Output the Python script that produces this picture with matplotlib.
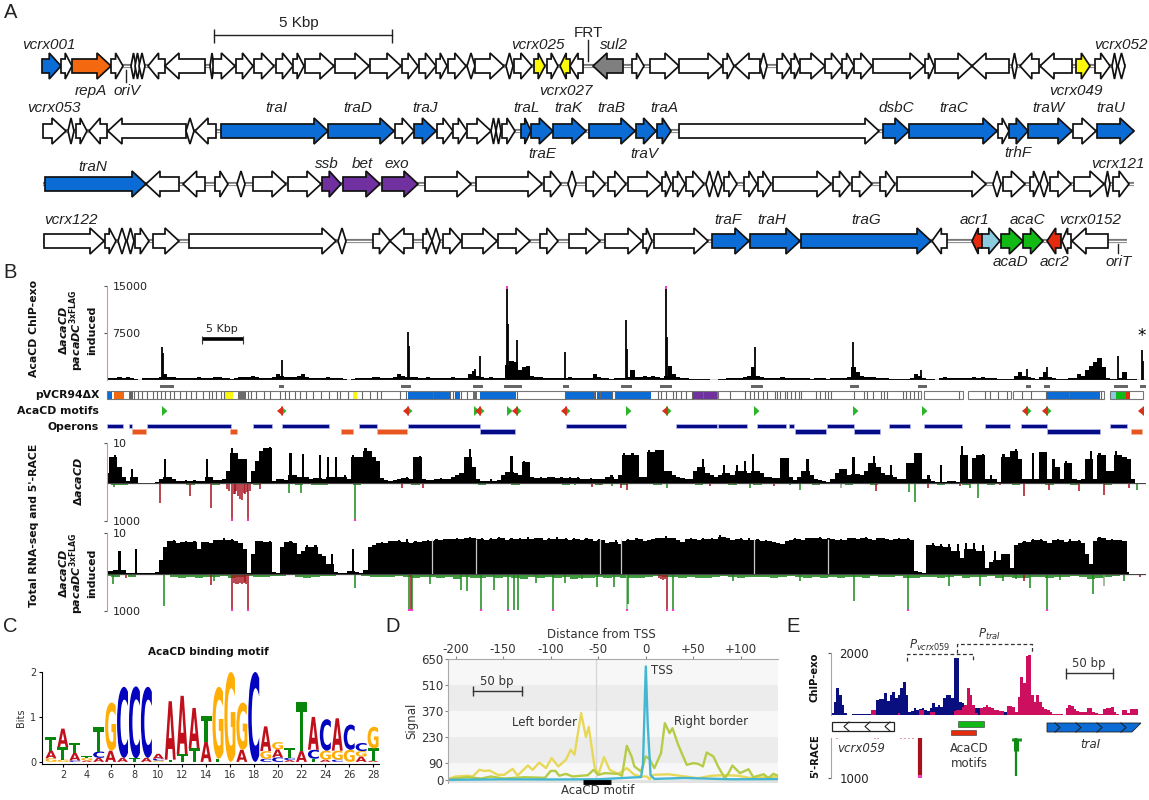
import numpy as np
import matplotlib
matplotlib.use('Agg')
import matplotlib.pyplot as plt
from matplotlib.patches import Polygon, PathPatch, Rectangle
from matplotlib.textpath import TextPath
from matplotlib.font_manager import FontProperties
from matplotlib.transforms import Affine2D

plt.rcParams['font.family'] = ['DejaVu Sans']
plt.rcParams['mathtext.fontset'] = 'dejavusans'

W, H = 1149, 800

BLUE = '#0b6cd6'
ORANGE = '#f4680f'
YEL = '#fbf80a'
GRAY = '#7f7f7f'
PUR = '#7030a0'
GRN = '#10b914'
RED = '#e62a0e'
LBL = '#8ccbdf'
WHT = 'white'
PINK = '#e08a9a'
MAG = '#f23fc0'

# panel A: genes as (start, end, strand, colour), map units of the drawing
row1 = [(42, 61, 1, BLUE), (61, 72, 1, WHT), (72, 111, 1, ORANGE), (111, 123, 1, WHT), (131, 136, 1, WHT),
        (135, 140, 1, WHT), (139, 145, 1, WHT), (148, 165, -1, WHT), (165, 205, -1, WHT), (210, 214, 1, WHT),
        (213, 235, 1, WHT), (236, 253, 1, WHT), (254, 274, 1, WHT), (276, 293, 1, WHT), (293, 304, 1, WHT),
        (305, 334, 1, WHT), (335, 369, 1, WHT), (370, 401, 1, WHT), (402, 418, 1, WHT), (419, 436, 1, WHT),
        (436, 447, 1, WHT), (448, 466, 1, WHT), (467, 475, 1, WHT), (475, 504, 1, WHT), (506, 513, 1, WHT),
        (514, 532, 1, WHT), (534, 545, 1, YEL), (547, 558, 1, WHT), (560, 570, -1, YEL), (570, 583, -1, WHT),
        (593, 623, -1, GRAY), (632, 644, 1, WHT), (650, 679, 1, WHT), (679, 722, 1, WHT), (723, 734, 1, WHT),
        (735, 760, -1, WHT), (760, 767, 1, WHT), (777, 791, 1, WHT), (791, 800, 1, WHT), (800, 825, 1, WHT),
        (825, 842, 1, WHT), (842, 854, 1, WHT), (854, 872, 1, WHT), (873, 924, 1, WHT), (925, 934, 1, WHT),
        (935, 972, 1, WHT), (972, 1009, -1, WHT), (1012, 1017, 1, WHT), (1020, 1039, -1, WHT), (1040, 1072, -1, WHT),
        (1076, 1090, 1, YEL), (1095, 1110, 1, WHT), (1112, 1117, 1, WHT), (1118, 1125, 1, WHT)]
row2 = [(43, 66, 1, WHT), (68, 74, 1, WHT), (76, 87, 1, WHT), (89, 107, -1, WHT), (108, 186, -1, WHT),
        (186, 194, -1, WHT), (195, 216, -1, WHT), (221, 328, 1, BLUE), (328, 394, 1, BLUE), (395, 414, 1, WHT),
        (414, 436, 1, BLUE), (437, 453, 1, WHT), (453, 467, 1, WHT), (467, 491, 1, WHT), (491, 496, 1, WHT),
        (496, 501, 1, WHT), (502, 515, 1, WHT), (521, 531, 1, BLUE), (531, 553, 1, BLUE), (553, 586, 1, BLUE),
        (589, 635, 1, BLUE), (636, 656, 1, BLUE), (657, 671, 1, BLUE), (679, 879, 1, WHT), (883, 909, 1, BLUE),
        (909, 997, 1, BLUE), (998, 1009, 1, WHT), (1009, 1028, 1, BLUE), (1028, 1072, 1, BLUE), (1073, 1096, 1, WHT),
        (1097, 1134, 1, BLUE)]
row3 = [(45, 146, 1, BLUE), (146, 179, -1, WHT), (183, 205, -1, WHT), (215, 228, 1, WHT), (237, 245, 1, WHT),
        (253, 286, 1, WHT), (288, 321, 1, WHT), (322, 341, 1, PUR), (343, 380, 1, PUR), (382, 418, 1, PUR),
        (425, 471, 1, WHT), (476, 542, 1, WHT), (544, 561, 1, WHT), (568, 576, 1, WHT), (586, 605, 1, WHT),
        (608, 626, 1, WHT), (628, 661, 1, WHT), (662, 671, 1, WHT), (673, 685, 1, WHT), (686, 704, 1, WHT),
        (706, 713, -1, WHT), (714, 722, 1, WHT), (724, 737, 1, WHT), (744, 757, 1, WHT), (758, 771, 1, WHT),
        (773, 831, 1, WHT), (833, 850, 1, WHT), (852, 872, 1, WHT), (880, 895, 1, WHT), (897, 986, 1, WHT),
        (993, 1001, 1, WHT), (1003, 1025, 1, WHT), (1030, 1039, 1, WHT), (1040, 1048, 1, WHT), (1050, 1071, 1, WHT),
        (1074, 1104, 1, WHT), (1105, 1110, 1, WHT), (1113, 1129, 1, WHT)]
row4 = [(44, 104, 1, WHT), (105, 116, 1, WHT), (118, 126, 1, WHT), (127, 134, 1, WHT), (135, 149, 1, WHT),
        (153, 179, 1, WHT), (189, 336, 1, WHT), (338, 346, 1, WHT), (373, 390, 1, WHT), (390, 413, -1, WHT),
        (423, 432, 1, WHT), (432, 440, -1, WHT), (443, 461, 1, WHT), (462, 497, 1, WHT), (498, 530, 1, WHT),
        (540, 558, 1, WHT), (569, 600, 1, WHT), (605, 642, 1, WHT), (643, 652, 1, WHT), (654, 708, 1, WHT),
        (712, 749, 1, BLUE), (750, 800, 1, BLUE), (801, 931, 1, BLUE), (932, 947, -1, WHT), (972, 982, -1, RED),
        (982, 1000, 1, LBL), (1001, 1023, 1, GRN), (1023, 1043, 1, GRN), (1047, 1061, -1, RED), (1062, 1071, -1, WHT),
        (1072, 1108, -1, WHT)]
row_y = [66, 131, 184, 241]
row_span = [(42, 1126), (43, 1134), (43, 1134), (43, 1127)]

# labels of panel A: text, x, y
gene_labels = [('vcrx001', 49, 45), ('repA', 91, 91), ('oriV', 127, 91), ('vcrx025', 538, 45), ('sul2', 614, 45),
               ('vcrx027', 566, 91), ('vcrx052', 1121, 45), ('vcrx049', 1076, 91), ('vcrx053', 54, 108),
               ('traI', 276, 108), ('traD', 358, 108), ('traJ', 425, 108), ('traL', 526, 108), ('traK', 568, 108),
               ('traB', 611, 108), ('traA', 664, 108), ('dsbC', 896, 108), ('traC', 954, 108), ('traW', 1048, 108),
               ('traU', 1111, 108), ('traE', 542, 154), ('traV', 644, 154), ('trhF', 1018, 153), ('traN', 93, 167),
               ('ssb', 327, 164), ('bet', 362, 164), ('exo', 397, 164), ('vcrx121', 1118, 164), ('vcrx122', 71, 220),
               ('traF', 728, 220), ('traH', 772, 220), ('traG', 866, 220), ('acr1', 975, 220), ('acaC', 1027, 220),
               ('vcrx0152', 1090, 220), ('acaD', 1010, 262), ('acr2', 1055, 262), ('oriT', 1119, 262)]

# panel B: signal per genome bin
TRACK_X0, TRACK_X1, BIN = 107, 1146, 4.17
chip_bins = [300, 350, 250, 400, 300, 500, 350, 120, 60, 250, 300, 250, 350, 500, 900, 500, 400, 300, 250, 300,
             350, 250, 400, 350, 300, 250, 400, 500, 300, 250, 200, 300, 450, 400, 500, 600, 500, 350, 300, 250,
             400, 900, 700, 500, 400, 500, 700, 900, 500, 350, 300, 250, 300, 400, 250, 300, 350, 200, 60, 200,
             300, 250, 350, 300, 400, 450, 350, 300, 250, 500, 1000, 600, 500, 400, 450, 350, 300, 400, 350, 300,
             250, 350, 300, 400, 300, 250, 350, 900, 1400, 700, 400, 350, 500, 350, 300, 350, 2400, 3000, 2800, 1600,
             2000, 2200, 700, 500, 400, 300, 350, 300, 250, 300, 350, 400, 300, 350, 300, 250, 350, 1000, 500, 300,
             250, 200, 350, 300, 250, 400, 1600, 500, 500, 700, 400, 600, 500, 300, 700, 2200, 900, 400, 300, 250,
             120, 100, 150, 200, 120, 60, 60, 100, 200, 250, 300, 350, 300, 500, 700, 2000, 700, 400, 350, 300,
             250, 350, 400, 350, 300, 250, 350, 300, 250, 200, 300, 350, 250, 200, 300, 350, 250, 300, 400, 2000,
             1200, 600, 500, 400, 500, 350, 300, 250, 200, 150, 100, 120, 200, 350, 1000, 700, 300, 150, 100, 60,
             300, 400, 300, 350, 250, 300, 350, 300, 400, 350, 450, 350, 300, 300, 200, 150, 100, 100, 700, 1300,
             700, 400, 300, 200, 400, 1300, 500, 300, 150, 100, 200, 300, 250, 1000, 600, 1600, 2200, 2800, 3500, 2000,
             300, 100, 120, 300, 1300, 200, 150, 100]
chip_spike_x = [162, 163, 282, 408, 409, 475, 480, 507, 508, 517, 565, 626, 627, 666, 667, 755, 853, 921, 1027, 1047,
                1105, 1118, 1142, 1143]
chip_spike_y = [5300, 4300, 3200, 7700, 5500, 1800, 3900, 15000, 9000, 6400, 4500, 9500, 5000, 15000, 6800, 5300, 6000, 1600, 1800, 2000,
                1100, 3800, 4800, 3000]

rna1 = [2.5, 6.5, 7, 4, 1.5, .6, 3.5, 1.5, .1, 0, 0, .1, .2, 1, 6, 1.5, 1, .5, .6, .7,
        .5, .8, .5, .6, 6, 1.5, .8, .8, .9, 3, 8.7, 7.5, 6, 6, .2, 3, 5.5, 8, 8.8, 9,
        .4, 1, 1, .8, 7.5, 2, 1.5, 7.3, 1.5, 1, 1.2, 7, 1, 6.5, 1.5, 6.5, 1.5, 2, 1, 7,
        6.5, 6.5, 8.8, 8, 6.5, 5.5, 1.2, .8, .6, .7, .9, 1.2, 1.5, 1, 6.5, 6.8, 1, .8, .7, 1,
        1.2, 1, 1, 1.5, 2, 2.5, 6.5, 8.5, 4, 1, .6, .5, .9, .5, .8, 2, 2.8, 6.8, 2.5, 2,
        5.5, 5.3, 1.5, 1.3, 1.5, 1.2, 1.6, 1.4, 1.2, 1.5, 1.3, 1.6, 1.2, 1.4, 1, 1.1, 1.3, 1, 1, 1,
        1.5, 2, 1, 2, 7.5, 7, 7.5, 7, 1.5, 1.5, 8.2, 7.8, 8.2, 8.3, 3, 3, 2, 1.5, 1.2, 1,
        1, 3, 4, 6, 2.5, 2, 1.5, 2, 4.5, 2.5, 2, 4.5, 3, 5.5, 2.5, 7.2, 3, 2.5, 1.5, 1.5,
        1.2, 1.2, 6.3, 6.2, 1.5, .8, 1.5, 3, 6, 2, 1, .8, .5, .3, 1, 2.5, 3.5, 3.5, 2, 6.5,
        2.2, 2, 3, 5, 6.8, 4, 2.5, 2, 4.5, 1.5, 1, 1, 5, 5, 7.5, 7.5, 1, 2, .6, .3,
        4.5, .2, .4, .5, .3, 9.2, 7, 1, 6.3, 7, 7.2, 1, 2, 1, .2, 7.3, 6.5, 8, 8.5, 6,
        1, 1, 7.5, 1, 7.8, 7.8, 1, 6, 4, 1, 5.5, 5, 1, .7, 1, 6, 8, 1, 7.5, 7,
        3, 3, 8, 7, 6.5, 6, 1, 0]
rna2 = [6.5, .8, 1, 5.5, 1, .3, .3, 6.2, .3, .2, .2, .3, .4, 3.5, 6.5, 8, 8.2, 7.5, 7.8, 8,
        7.8, 8, 6, 7.8, 7.8, 7.5, 8.3, 8.2, 8.8, 8.2, 8.5, 8, 7.5, 6, .2, 5, 8, 8, 7.8, 8,
        .6, .3, 6.5, 7.8, 8, 7.5, 5, 5.5, 7, 6.5, 7, 5, 4.5, 2.5, 5, .5, .3, .3, .8, 6,
        .4, .3, 1, 6.5, 7, 7.5, 7.8, 7.5, 8, 8, 8.3, 7.8, 8.6, 7.5, 8, 7.8, 8, 8.2, 8, 8.5,
        8.2, 8.5, 8.6, 8.5, 8.8, 8.5, 8.8, 9, 8.8, 8.5, 8.7, 8.4, 8.8, 8.6, 9, 8.7, 8.4, 8.8, 8.5, 8.9,
        8.6, 9, 8.5, 8.7, 8.9, 8.4, 8.8, 8.6, 9, 8.5, 8.7, 8.4, 8.8, 8.6, 8.3, 8.7, 8.5, 8, 8.5, 8.2,
        7.5, 7.8, 8.4, 7.2, 8, 8.6, 8.2, 8.8, 8.5, 8, 8.3, 8.6, 8.8, 8.9, 9.2, 8.7, 8.9, 8.3, 7.8, 8.5,
        8.8, 8.6, 8.3, 8.8, 8.5, 8.8, 8.6, 9.5, 9, 8.8, 8.3, 8.6, 8.8, 8.4, 8.7, 8.2, 8.5, 8, 8.3, 8,
        7.8, 7.5, 7.2, 8, 8.4, 8.7, 8.5, 8.2, 8.8, 8.9, 8.7, 9, 8.6, 8.8, 8.5, 8.2, 8.6, 8.4, 8.9, 8.7,
        8.5, 8.8, 9, 8.6, 8.4, 8.7, 8.9, 8.5, 8.3, 8.6, 8.8, 8.5, 8.7, 8.4, .8, .5, .3, 7, 7.5, 6.8,
        7.4, 6.5, 7.2, 5.5, 7.3, 4, 7.5, 6, 7.5, 5.5, 7, 1.5, 3, 5.5, 3.5, 5, 5, 1.5, 7, 7.5,
        8, 7.8, 8.5, 8.2, 8.6, 8, 7.5, 8.2, 8.6, 8.2, 7.8, 8.5, 8, 8.4, 7.5, 5, 2.5, 8, 9, 8.8,
        8.3, 8.6, 8.4, 8.2, 8, .5]
rna2_gaps = [432, 476, 600, 621, 754, 828]

# strand signals below the RNA tracks: position, depth, colour
DR, DG = '#a5121c', '#1a8a1a'
neg1_x = [114, 160, 190, 211, 232, 238, 240, 245, 248, 260, 289, 301, 355, 402, 423, 592, 621, 627, 667, 710,
          750, 774, 800, 841, 876, 909, 915, 928, 978, 970, 1024, 1049, 1079, 1104, 1129, 1137, 235, 242, 250, 575, 600, 612, 735, 790, 960, 1000,
          227, 229, 234, 236, 244, 247]
neg1_y = [100, 530, 350, 660, 1000, 350, 420, 300, 1000, 150, 250, 250, 1000, 120, 140, 100, 130, 180, 130, 90,
          130, 90, 180, 130, 220, 240, 510, 130, 400, 140, 350, 180, 220, 320, 130, 180, 300, 450, 220, 60, 60, 70, 60, 60, 90, 60,
          150, 200, 280, 220, 260, 240]
neg1_c = [DG, DR, DR, DR, DR, DR, DR, DR, DR, DR, DG, DG, DG, DR, DR, DR, DR, DR, DG, DR,
          DG, DR, DG, '#8aa88a', DR, DG, DG, DR, DG, DG, DR, DR, DR, DR, DR, DG, DR, DR, DR, DG, DR, DG, DG, DG, DR, DR,
          DR, DR, DR, DR, DR, DR]
neg1_noise = [30, 60, 40, 20, 10, 5, 0, 0, 10, 30, 40, 20, 30, 40, 20, 30, 20, 30, 50, 20,
              30, 20, 30, 40, 20, 40, 50, 30, 20, 30, 40, 30, 20, 30, 20, 20, 30, 40, 30, 20,
              30, 20, 30, 30, 20, 40, 30, 30, 20, 40, 30, 20, 30, 20, 30, 40, 20, 30, 20, 40,
              30, 20, 40, 30, 20, 30, 40, 20, 30, 20, 30, 40, 30, 20, 30, 40, 20, 30, 40, 30,
              20, 30, 20, 10, 30, 40, 30, 20, 30, 40, 20, 30, 40, 30, 20, 30, 20, 10, 10, 30,
              40, 20, 30, 50, 20, 30, 40, 20, 30, 40, 30, 20, 30, 40, 20, 30, 40, 30, 20, 30, 40, 20, 10, 0]
neg2_x = [113, 126, 164, 211, 214, 232, 240, 245, 248, 355, 409, 411, 412, 430, 461, 467, 481, 494, 508, 514,
          518, 536, 553, 565, 582, 597, 614, 627, 628, 667, 673, 733, 800, 854, 908, 949, 980, 1024, 1030, 1047,
          1093, 1104, 1124, 1140, 1016, 1060, 1003,
          234, 236, 238, 242, 244, 246, 659, 661, 663, 665]
neg2_y = [280, 110, 870, 300, 180, 1000, 230, 220, 1000, 370, 1000, 1000, 1000, 280, 420, 460, 1000, 420, 1000, 970,
          970, 230, 1000, 230, 130, 350, 350, 1000, 800, 1000, 1000, 180, 180, 730, 1000, 320, 320, 200, 370, 1000,
          550, 320, 180, 90, 130, 150, 180,
          250, 270, 260, 280, 250, 260, 120, 140, 150, 130]
neg2_c = [DG, DR, DG, DR, DG, DR, DR, DR, DR, DG, DG, DR, DG, DG, DG, DG, DG, DG, DG, DG,
          DG, DG, DG, DG, DG, DG, DG, '#7fbf7f', DG, DR, DG, DG, DG, DG, DG, DG, DG, DR, DG, DG,
          DG, '#8aa88a', DG, DR, DG, DG, DG,
          DR, DR, DR, DR, DR, DR, DR, DR, DR, DR]
neg2_noise = [60, 90, 40, 70, 30, 40, 20, 30, 80, 120, 90, 110, 70, 90, 60, 100, 80, 60, 90, 70,
              50, 60, 40, 80, 100, 70, 50, 60, 40, 30, 30, 60, 80, 70, 90, 60, 70, 100, 70, 90,
              120, 90, 130, 80, 100, 120, 90, 110, 70, 100, 130, 90, 120, 80, 110, 90, 130, 100, 120, 80,
              100, 70, 110, 120, 100, 80, 60, 90, 80, 110, 70, 100, 120, 90, 60, 80, 100, 70, 90, 80,
              110, 70, 60, 90, 100, 80, 120, 70, 110, 90, 70, 100, 60, 80, 90, 60, 100, 120, 90, 70,
              110, 80, 60, 100, 80, 70, 60, 110, 90, 120, 100, 80, 90, 120, 70, 80, 60, 90, 130, 100, 70, 50, 20, 0]

# gene map row
map_boxes = [(107, 717), (718, 921), (924, 963), (968, 1011), (1013, 1104), (1110, 1143)]
map_fill = [(107, 112, BLUE), (114, 124, ORANGE), (129, 133, '#666666'), (225, 233, YEL), (238, 246, '#6b6b6b'), (353, 357, YEL),
            (408, 450, BLUE), (455, 460, BLUE), (473, 477, '#6b6b6b'), (480, 516, BLUE), (566, 596, BLUE), (597, 612, BLUE),
            (616, 651, BLUE), (693, 717, PUR), (1047, 1100, BLUE), (1111, 1116, LBL), (1116, 1126, GRN), (1126, 1130, RED)]
map_ticks = [134, 138, 142, 147, 153, 157, 161, 165, 170, 174, 180, 186, 191, 196, 203, 209, 212, 216, 221, 224,
             248, 251, 256, 264, 270, 280, 285, 289, 295, 300, 306, 313, 321, 329, 337, 340, 348, 362, 370, 377,
             381, 400, 406, 433, 450, 453, 461, 467, 517, 565, 594, 600, 612, 615, 658, 661, 666, 673, 676, 681,
             686, 692, 703, 730, 745, 750, 754, 758, 763, 767, 775, 777, 780, 785, 787, 791, 795, 799, 801, 816,
             820, 825, 828, 831, 854, 864, 867, 873, 881, 884, 887, 903, 906, 910, 914, 918, 959, 985, 990, 998,
             1007, 1022, 1031, 1046, 1069, 1101]

chip_regions = [(160, 174), (279, 284), (401, 411), (473, 483), (504, 522), (563, 569), (621, 632), (660, 672), (751, 763),
                (850, 859), (918, 927), (1026, 1031), (1044, 1050), (1114, 1128), (1140, 1146)]
motif_fwd = [163, 282, 408, 475, 480, 508, 517, 566, 627, 667, 755, 854, 923, 1027, 1047]
motif_rev = [282, 408, 480, 517, 566, 667, 1027, 1047, 1143]
operon_up = [(107, 123), (129, 132), (147, 231), (253, 272), (282, 329), (359, 377), (408, 480), (566, 626), (676, 717),
             (718, 747), (757, 786), (789, 794), (827, 854), (889, 910), (924, 962), (985, 1010), (1021, 1047), (1110, 1127)]
operon_low = [(480, 515), (795, 826), (854, 880), (1047, 1100)]
operon_org = [(132, 146), (230, 237), (341, 353), (377, 407), (1131, 1142)]

# panel C: stacks bottom to top, (letter, bits)
logo = [[('G', .08), ('A', .17), ('T', .3)], [('G', .05), ('T', .28), ('A', .41)], [('C', .03), ('A', .17), ('T', .22)],
        [('A', .03), ('G', .06), ('T', .03)], [('A', .09), ('C', .14), ('T', .55)], [('A', .25), ('G', 1.07)],
        [('A', .09), ('C', 1.58)], [('T', .08), ('C', 1.6)], [('A', .09), ('C', 1.58)], [('G', .03), ('C', .04), ('A', .11)],
        [('T', .05), ('A', 1.3)], [('T', .17), ('A', 1.3)], [('T', .3), ('A', .9)], [('A', .45), ('T', .57)],
        [('T', .07), ('G', 1.6)], [('G', 2.0)], [('A', .27), ('G', 1.05)], [('C', 2.0)], [('C', .07), ('G', .17), ('A', .55)],
        [('C', .1), ('A', .18), ('G', .16)], [('A', .04), ('C', .05), ('T', .22)], [('A', .24), ('T', 1.09)],
        [('T', .07), ('C', .2), ('A', .73)], [('A', .05), ('G', .2), ('C', .7)], [('C', .05), ('G', .2), ('A', .72)],
        [('G', .27), ('C', .56)], [('A', .12), ('G', .12), ('C', .18)], [('A', .03), ('T', .27), ('G', .48)]]
logo_colours = {'A': '#c0101c', 'C': '#0404c0', 'G': '#ffae08', 'T': '#08860c'}

# panel D
left_x = [-208, -200, -187, -182, -175, -170, -164, -156, -149, -140, -135, -124, -119, -112, -105, -99, -92, -84, -79, -75,
          -68, -63, -60, -54, -50, -44, -38, -29, -20, -12, -5, 1, 4, 8, 24, 34, 55, 69, 83, 97, 111, 139]
left_y = [4, 18, 22, 18, 54, 48, 50, 27, 27, 59, 23, 77, 54, 93, 63, 117, 72, 108, 162, 135,
          359, 230, 284, 72, 27, 122, 54, 32, 63, 27, 18, 18, 4, 27, 30, 23, 9, 22, 25, 22, 9, 18]
right_x = [-208, -187, -173, -163, -149, -128, -106, -100, -95, -91, -84, -77, -61, -55, -50, -43, -29, -25, -20, -15,
           -12, -5, 0, 4, 9, 16, 20, 25, 28, 34, 43, 50, 55, 60, 64, 71, 76, 83, 87, 91,
           99, 108, 113, 124, 129, 134, 139]
right_y = [4, 14, 7, 18, 7, 14, 11, 48, 48, 22, 32, 18, 25, 54, 27, 36, 32, 22, 183, 126,
           72, 45, 126, 111, 63, 144, 305, 251, 278, 189, 81, 90, 86, 72, 147, 126, 72, 9, 36, 77,
           36, 57, 14, 30, 9, 32, 22]
tss_x = [-208, -150, -100, -50, -5, -3, 0, 2, 5, 9, 41, 90, 139]
tss_y = [0, 3, 2, 3, 15, 80, 610, 300, 25, 5, 10, 3, 4]

# panel E: bins of the ChIP-exo signal
chip_e_blue = [50, 430, 860, 650, 320, 50, 0, 0, 20, 20, 20, 20, 20, 20, 20, 0, 0, 490, 520, 520,
               700, 450, 650, 730, 540, 650, 860, 1060, 650, 110, 130, 220, 160, 190, 240, 160, 130, 240, 380, 270,
               320, 270, 540, 650, 630, 540, 1840, 1840, 430, 380, 300, 110, 110, 130, 220, 220, 110, 50, 50, 90,
               90, 90, 110, 110, 110, 110]
chip_e_red = [0, 0, 0, 0, 0, 0, 0, 0, 0, 0, 0, 0, 0, 0, 0, 160, 160, 0, 0, 0,
              0, 0, 0, 0, 0, 50, 0, 0, 0, 0, 0, 0, 0, 160, 160, 0, 0, 110, 90, 0,
              0, 0, 0, 0, 0, 0, 130, 160, 160, 270, 320, 860, 650, 320, 50, 0, 220, 270, 320, 270,
              220, 160, 160, 130, 130, 0, 300, 300, 270, 110, 590, 1240, 1030, 1890, 1950, 650, 430, 650, 430, 270,
              190, 160, 90, 30, 20, 20, 20, 0, 220, 320, 300, 190, 130, 90, 90, 90, 220, 240, 90, 50,
              30, 30, 190, 220, 240, 270, 110, 30, 0, 160, 160, 50, 190, 190, 190]


def to_ax(x0, y0, x1, y1, **kw):
    # axes from pixel box of the picture
    return fig.add_axes([x0 / W, 1 - y1 / H, (x1 - x0) / W, (y1 - y0) / H], **kw)


def bare(ax):
    ax.set_xticks([])
    ax.set_yticks([])
    for s in ax.spines.values():
        s.set_visible(False)
    ax.patch.set_alpha(0)


def pink_axis(ax, ticks, labels, size=8, pad=-6):
    ax.spines['left'].set_visible(True)
    ax.spines['left'].set_color(PINK)
    ax.set_yticks(ticks, labels=labels, fontsize=size)
    ax.tick_params(axis='y', length=2, pad=pad, color='#555555', labelcolor='#222222')
    for lab in ax.get_yticklabels():
        lab.set_ha('left')


def draw_gene(ax, g, y, body=7, wing=13, hl=14):
    a, b, d, c = g
    w = b - a
    if w < 9:
        m = (a + b) / 2
        pts = [(a, y), (m, y - wing), (b, y), (m, y + wing)]
    else:
        h = min(hl, 0.62 * w)
        if d > 0:
            pts = [(a, y - body), (b - h, y - body), (b - h, y - wing), (b, y), (b - h, y + wing), (b - h, y + body), (a, y + body)]
        else:
            pts = [(b, y - body), (a + h, y - body), (a + h, y - wing), (a, y), (a + h, y + wing), (a + h, y + body), (b, y + body)]
    ax.add_patch(Polygon(pts, closed=True, fc=c, ec='#111111', lw=1.25, joinstyle='miter', zorder=3))


def draw_signal(ax, vals):
    # narrow bars where one bin stands alone above its neighbours
    vals = np.array(vals, dtype=float)
    bx = TRACK_X0 + np.arange(len(vals)) * BIN
    prev = np.r_[0, vals[:-1]]
    nxt = np.r_[vals[1:], 0]
    around = np.maximum(prev, nxt)
    floor = np.minimum(vals, around)
    ax.fill_between(bx, floor, step='mid', color='black', lw=0)
    alone = vals > floor
    ax.bar(bx[alone], vals[alone], width=2.2, color='black', lw=0)


fig = plt.figure(figsize=(W / 100, H / 100), dpi=100)

# overlay in picture coordinates, for gene rows and labels
ov = fig.add_axes([0, 0, 1, 1], zorder=5)
ov.set_xlim(0, W)
ov.set_ylim(H, 0)
ov.axis('off')

for r, y, sp in zip([row1, row2, row3, row4], row_y, row_span):
    ov.plot(sp, [y, y], color='#777777', lw=3, solid_capstyle='butt', zorder=1)
    ov.plot(sp, [y, y], color='white', lw=1, solid_capstyle='butt', zorder=2)
    for g in r:
        draw_gene(ov, g, y)

AF = 'Liberation Sans'
for t, x, y in gene_labels:
    ov.text(x, y, t, family=AF, style='italic', fontsize=11, ha='center', va='center', color='#222222')
for t, x, y in [('A', 11, 13), ('B', 10, 273), ('C', 10, 627), ('D', 393, 627), ('E', 793, 627)]:
    ov.text(x, y, t, family=AF, fontsize=14.5, ha='center', va='center', color='#222222')
ov.text(299, 23, '5 Kbp', family=AF, fontsize=11, ha='center', va='center', color='#222222')
ov.plot([214, 392], [35, 35], color='#222222', lw=1)
ov.vlines([214, 392], 29, 43, color='#222222', lw=1)
ov.text(588, 33, 'FRT', family=AF, fontsize=11, ha='center', va='center', color='#222222')
ov.plot([588, 588], [40, 61], color='#222222', lw=1)
ov.plot([126, 126], [70, 82], color='#222222', lw=1)
ov.plot([1118, 1118], [244, 253], color='#222222', lw=1)

# ChIP-exo track
ax = to_ax(TRACK_X0, 286, TRACK_X1, 380)
bare(ax)
bx = TRACK_X0 + np.arange(len(chip_bins)) * BIN
ax.fill_between(bx, chip_bins, step='mid', color='black', lw=0)
ax.vlines(chip_spike_x, 0, chip_spike_y, color='black', lw=1.3)
ax.vlines([507, 666], 14500, 15000, color=MAG, lw=1.5)
ax.plot([TRACK_X0, TRACK_X1], [0, 0], color='#555555', lw=1)
ax.set_xlim(TRACK_X0, TRACK_X1)
ax.set_ylim(0, 15000)
pink_axis(ax, [7500, 15000], ['7500', '15000'])

# 5 Kbp bar
ov.plot([202, 243], [339, 339], color='black', lw=2.6, solid_capstyle='butt')
ov.vlines([202, 243], 336, 344, color='#333333', lw=.8)
ov.text(222, 329, '5 Kbp', fontsize=8, ha='center', va='center', color='#222222')
ov.text(1142, 336, '*', fontsize=12, ha='center', va='center', color='black')

for a, b in chip_regions:
    ov.add_patch(Rectangle((a, 384.5), b - a, 3.2, fc='#666666', ec='none'))

# map row
for a, b, c in map_fill:
    ov.add_patch(Rectangle((a, 391), b - a, 8, fc=c, ec='none', zorder=2))
for a, b in map_boxes:
    ov.add_patch(Rectangle((a, 391), b - a, 8, fc='none', ec='#777777', lw=.8, zorder=3))
ov.vlines(map_ticks, 391, 399, color='#666666', lw=.8, zorder=3)

# motif marks
for x in motif_rev:
    ov.add_patch(Polygon([(x + 1, 406), (x - 5, 411), (x + 1, 416)], fc='#d8301a', ec='none', zorder=5))
for x in motif_fwd:
    ov.add_patch(Polygon([(x - 1, 406), (x + 4.5, 411), (x - 1, 416)], fc='#2cb52c', ec='none', zorder=4))

# operons
for spans, y, c, e in [(operon_up, 426, '#050a85', '#b9bdf0'), (operon_low, 431.5, '#050a85', '#b9bdf0'),
                       (operon_org, 431.5, '#e8551f', '#f4b79b')]:
    for a, b in spans:
        ov.add_patch(Rectangle((a, y - 2.2), b - a, 4.4, fc=c, ec=e, lw=.5))

# RNA-seq tracks
tracks = [(rna1, 443, 483, 521, neg1_x, neg1_y, neg1_c, neg1_noise),
          (rna2, 533, 574, 611, neg2_x, neg2_y, neg2_c, neg2_noise)]
for vals, top, base, bot, nx, ny, nc, noise in tracks:
    ax = to_ax(TRACK_X0, top, TRACK_X1, base)
    bare(ax)
    draw_signal(ax, vals)
    ax.set_xlim(TRACK_X0, TRACK_X1)
    ax.set_ylim(0, 10)
    pink_axis(ax, [10], ['10'])
    if vals is rna2:
        ax.vlines(rna2_gaps, 0, 8.5, color='#c8c8c8', lw=.9)
    ax2 = to_ax(TRACK_X0, base, TRACK_X1, bot)
    bare(ax2)
    nbx = TRACK_X0 + np.arange(len(noise)) * 2 * BIN
    ax2.fill_between(nbx, noise, step='mid', color='#3f9a3f', lw=0)
    ax2.vlines(nx, 0, ny, color=nc, lw=1.1)
    deep = [x for x, y in zip(nx, ny) if y >= 1000]
    ax2.vlines(deep, 955, 1000, color=MAG, lw=1.6)
    ax2.plot([TRACK_X0, TRACK_X1], [0, 0], color='#444444', lw=.9)
    ax2.set_xlim(TRACK_X0, TRACK_X1)
    ax2.set_ylim(1000, 0)
    pink_axis(ax2, [1000], ['1000'])

# labels of panel B
BK = '#111111'
ov.text(34, 328, 'AcaCD ChIP-exo', fontsize=7.8, fontweight='bold', rotation=90, ha='center', va='center', color=BK)
ov.text(34, 525, "Total RNA-seq and 5'-RACE", fontsize=7.8, fontweight='bold', rotation=90, ha='center', va='center', color=BK)
delta = r'$\mathbf{\Delta}\mathbfit{acaCD}$'
pac = r'$\mathbf{p}\mathbfit{acaDC}^{\mathbf{3xFLAG}}$'
for y in (330, 573):
    ov.text(63, y, delta, fontsize=8, rotation=90, ha='center', va='center', color=BK)
    ov.text(77, y, pac, fontsize=8, rotation=90, ha='center', va='center', color=BK)
    ov.text(92, y, 'induced', fontsize=8, fontweight='bold', rotation=90, ha='center', va='center', color=BK)
ov.text(78, 481, delta, fontsize=8, rotation=90, ha='center', va='center', color=BK)
ov.text(99, 395, 'pVCR94ΔX', fontsize=7.8, fontweight='bold', ha='right', va='center', color=BK)
ov.text(99, 411, 'AcaCD motifs', fontsize=7.8, fontweight='bold', ha='right', va='center', color=BK)
ov.text(99, 427, 'Operons', fontsize=7.8, fontweight='bold', ha='right', va='center', color=BK)

# panel C, sequence logo
ax = to_ax(42, 672, 379, 764)
fp = FontProperties(family='DejaVu Sans', weight='bold')
ax.set_xlim(0.25, 28.5)
ax.set_ylim(-0.047, 2)
for i, stack in enumerate(logo):
    base = 0
    for letter, h in stack:
        tp = TextPath((0, 0), letter, size=1, prop=fp)
        bb = tp.get_extents()
        tr = Affine2D().translate(-bb.x0, -bb.y0).scale(0.92 / bb.width, h / bb.height).translate(i + 1 - 0.46, base)
        ax.add_patch(PathPatch(tr.transform_path(tp), fc=logo_colours[letter], ec='none'))
        base += h
ax.spines['top'].set_visible(False)
ax.spines['right'].set_visible(False)
ax.set_xticks(np.arange(2, 29, 2))
ax.set_yticks([0, 1, 2])
ax.tick_params(labelsize=7, length=2, pad=2, labelcolor='#333333')
ax.set_ylabel('Bits', fontsize=7, labelpad=3, color='#333333')
ax.patch.set_alpha(0)
ov.text(208, 652, 'AcaCD binding motif', fontsize=7.5, fontweight='bold', ha='center', va='center', color=BK)

# panel D
ax = to_ax(448, 659, 778, 783)
ax.set_xlim(-208, 139)
ax.set_ylim(-17, 650)
ax.axhspan(-17, 0, color='#e2e2e2', lw=0)
for lo, hi, c in [(0, 90, '#f7f7f7'), (90, 230, '#ececec'), (230, 370, '#f7f7f7'), (370, 510, '#ececec'), (510, 650, '#f7f7f7')]:
    ax.axhspan(lo, hi, color=c, lw=0)
ax.axvline(-52, color='#d8d8d8', lw=1)
ax.plot(left_x, left_y, color='#e8d85a', lw=1.7)
ax.plot(right_x, right_y, color='#b4cc46', lw=1.7)
ax.plot(tss_x, tss_y, color='#45b6d2', lw=1.7)
ax.set_yticks([0, 90, 230, 370, 510, 650])
ax.xaxis.tick_top()
ax.set_xticks([-200, -150, -100, -50, 0, 50, 100], labels=['-200', '-150', '-100', '-50', '0', '+50', '+100'])
ax.tick_params(labelsize=8.5, length=2, pad=1.5, color='#888888', labelcolor='#333333')
ax.tick_params(axis='x', pad=0)
for s in ('right', 'bottom'):
    ax.spines[s].set_visible(False)
for s in ('top', 'left'):
    ax.spines[s].set_color('#aaaaaa')
ax.set_ylabel('Signal', fontsize=8.5, labelpad=2, color='#333333')
ov.text(601, 635, 'Distance from TSS', fontsize=8.5, ha='center', va='center', color='#333333')
ov.plot([473, 522], [691, 691], color='#333333', lw=1)
ov.vlines([473, 522], 686, 696, color='#333333', lw=1)
ov.text(497, 682, '50 bp', fontsize=8.5, ha='center', va='center', color='#333333')
ov.text(662, 671, 'TSS', fontsize=8.5, ha='center', va='center', color='#333333')
ov.text(544, 723, 'Left border', fontsize=8.5, ha='center', va='center', color='#333333')
ov.text(711, 721, 'Right border', fontsize=8.5, ha='center', va='center', color='#333333')
ov.plot([583, 611], [782, 782], color='black', lw=3.5, solid_capstyle='butt')
ov.text(598, 791, 'AcaCD motif', fontsize=8.5, ha='center', va='center', color='#333333')

# panel E
ax = to_ax(831, 653, 1141, 715)
bare(ax)
EB = 8 / 3
ex = 831 + np.arange(len(chip_e_blue)) * EB
ax.bar(ex, chip_e_blue, width=EB, color='#0a0f80', lw=0, align='edge')
ex = 831 + np.arange(len(chip_e_red)) * EB
ax.bar(ex, chip_e_red, width=EB, color='#cc0f5f', lw=0, align='edge')
ax.set_xlim(831, 1141)
ax.set_ylim(0, 2000)
pink_axis(ax, [2000], ['2000'], size=8.5, pad=-8)

ax = to_ax(831, 738, 1141, 778)
bare(ax)
ax.set_xlim(831, 1141)
ax.set_ylim(1000, 0)
pink_axis(ax, [1000], ['1000'], size=8.5, pad=-8)
ax.vlines([920], 0, 920, color='#a8101c', lw=3)
ax.vlines([920], 920, 1000, color=MAG, lw=3)
ax.vlines([1016], 0, 960, color='#0f8a14', lw=1.6)
ax.vlines([1015, 1017], 0, 320, color='#0f8a14', lw=2.2)
ax.vlines([1013, 1020], 0, 70, color='#0f8a14', lw=2)
ax.vlines([837, 875, 878, 901, 905, 909, 913], 0, 22, color=PINK, lw=1.2)

# gene boxes of panel E
ov.add_patch(Polygon([(832, 722), (894, 722), (894, 731), (832, 731)], fc='white', ec='#222222', lw=.9))
for x in (844, 865, 885):
    ov.plot([x + 5, x, x + 5], [722, 726.5, 731], color='#222222', lw=.8)
ov.add_patch(Polygon([(1047, 723), (1141, 723), (1132, 732), (1047, 732)], fc=BLUE, ec='#222222', lw=.6))
for x in (1055, 1076, 1097, 1121):
    ov.plot([x, x + 5, x], [723, 727.5, 732], color='#222222', lw=.8)
ov.add_patch(Rectangle((958, 721), 26, 5.5, fc=GRN, ec='#333333', lw=.4))
ov.add_patch(Rectangle((951, 729.5), 25, 5.5, fc=RED, ec='#333333', lw=.4))

ov.text(815, 677, 'ChIP-exo', fontsize=7.2, fontweight='bold', rotation=90, ha='center', va='center', color=BK)
ov.text(815, 756, "5'-RACE", fontsize=7.2, fontweight='bold', rotation=90, ha='center', va='center', color=BK)
ov.text(861, 748, 'vcrx059', fontsize=8.5, style='italic', ha='center', va='center', color='#333333')
ov.text(969, 756, 'AcaCD\nmotifs', fontsize=8.5, ha='center', va='center', color='#333333', linespacing=1.25)
ov.text(1090, 744, 'traI', fontsize=8.5, style='italic', ha='center', va='center', color='#333333')
ov.plot([907, 907, 973, 973], [661, 654, 654, 661], color='#333333', lw=.9, ls=(0, (3, 2)))
ov.plot([957, 957, 1032, 1032], [653, 644, 644, 653], color='#333333', lw=.9, ls=(0, (3, 2)))
ov.text(930, 645, r'$P_{vcrx059}$', fontsize=8.5, ha='center', va='center', color='#333333')
ov.text(989, 634, r'$P_{traI}$', fontsize=8.5, ha='center', va='center', color='#333333')
ov.plot([1066, 1113], [673, 673], color='#333333', lw=1)
ov.vlines([1066, 1113], 668, 679, color='#333333', lw=1)
ov.text(1089, 664, '50 bp', fontsize=8.5, ha='center', va='center', color='#333333')

fig.savefig('out.png', dpi=100)
